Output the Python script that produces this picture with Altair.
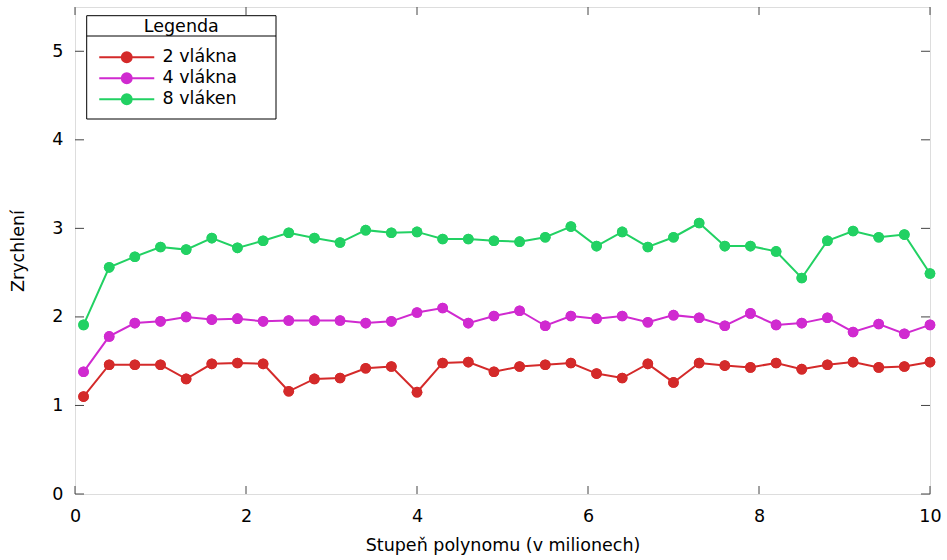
import altair as alt
import pandas as pd

# ---- data ----
x_vals = [0.1, 0.4, 0.7, 1.0, 1.3, 1.6, 1.9, 2.2, 2.5, 2.8, 3.1, 3.4, 3.7, 4.0, 4.3, 4.6, 4.9,
          5.2, 5.5, 5.8, 6.1, 6.4, 6.7, 7.0, 7.3, 7.6, 7.9, 8.2, 8.5, 8.8, 9.1, 9.4, 9.7, 10.0]
series_names = ["2 vlákna", "4 vlákna", "8 vláken"]
s2 = [1.10, 1.46, 1.46, 1.46, 1.30, 1.47, 1.48, 1.47, 1.16, 1.30, 1.31, 1.42, 1.44, 1.15, 1.48, 1.49, 1.38,
      1.44, 1.46, 1.48, 1.36, 1.31, 1.47, 1.26, 1.48, 1.45, 1.43, 1.48, 1.41, 1.46, 1.49, 1.43, 1.44, 1.49]
s4 = [1.38, 1.78, 1.93, 1.95, 2.00, 1.97, 1.98, 1.95, 1.96, 1.96, 1.96, 1.93, 1.95, 2.05, 2.10, 1.93, 2.01,
      2.07, 1.90, 2.01, 1.98, 2.01, 1.94, 2.02, 1.99, 1.90, 2.04, 1.91, 1.93, 1.99, 1.83, 1.92, 1.81, 1.91]
s8 = [1.91, 2.56, 2.68, 2.79, 2.76, 2.89, 2.78, 2.86, 2.95, 2.89, 2.84, 2.98, 2.95, 2.96, 2.88, 2.88, 2.86,
      2.85, 2.90, 3.02, 2.80, 2.96, 2.79, 2.90, 3.06, 2.80, 2.80, 2.74, 2.44, 2.86, 2.97, 2.90, 2.93, 2.49]
colors = ["#d42a2a", "#d02ad0", "#22d163"]
x_ticks = [0, 2, 4, 6, 8, 10]
y_ticks = [0, 1, 2, 3, 4, 5]
legend_title = "Legenda"

rows = []
for name, vals in zip(series_names, [s2, s4, s8]):
    for xv, yv in zip(x_vals, vals):
        rows.append({"x": xv, "y": yv, "serie": name})
df = pd.DataFrame(rows)

W, H = 855, 487
FONT = "DejaVu Sans"
FS = 17.5

xscale = alt.Scale(domain=[0, 10], nice=False, zero=False)
yscale = alt.Scale(domain=[0, 5.5], nice=False, zero=False)

legend_symbol = "M-5,0H5M0.9,0A0.9,0.9,0,1,1,-0.9,0A0.9,0.9,0,1,1,0.9,0Z"
legend = alt.Legend(
    title=None, orient="none", legendX=11.7, legendY=37.5, padding=4,
    labelFont=FONT, labelFontSize=FS, labelColor="black", labelOffset=27,
    symbolType=legend_symbol, symbolSize=121, symbolStrokeWidth=2,
    symbolOffset=27.3, rowPadding=2,
)
color = alt.Color("serie:N", scale=alt.Scale(domain=series_names, range=colors),
                  sort=series_names, legend=legend)

xaxis = alt.Axis(values=x_ticks, format="d", domain=False, ticks=False, grid=False,
                 labelFlush=False, labelOverlap=False,
                 labelPadding=13, labelFont=FONT, labelFontSize=FS, labelColor="black",
                 titleFont=FONT, titleFontSize=FS, titleFontWeight="normal",
                 titleColor="black", titlePadding=12)
yaxis = alt.Axis(values=y_ticks, format="d", domain=False, ticks=False, grid=False,
                 labelFlush=False, labelOverlap=False,
                 labelPadding=12, labelFont=FONT, labelFontSize=FS, labelColor="black",
                 titleFont=FONT, titleFontSize=FS, titleFontWeight="normal",
                 titleColor="black", titlePadding=24)

base = alt.Chart(df)
points = base.mark_circle(size=113, opacity=1).encode(
    x=alt.X("x:Q", scale=xscale, axis=xaxis, title="Stupeň polynomu (v milionech)"),
    y=alt.Y("y:Q", scale=yscale, axis=yaxis, title="Zrychlení"),
    color=color,
)
lines = base.mark_line(strokeWidth=2).encode(
    x=alt.X("x:Q", scale=xscale),
    y=alt.Y("y:Q", scale=yscale),
    color=color,
    detail="serie:N",
)

xt = pd.DataFrame({"t": x_ticks})
yt = pd.DataFrame({"t": y_ticks})
tick_col = "#444444"
bottom_ticks = alt.Chart(xt).mark_rule(color=tick_col, strokeWidth=1).encode(
    x=alt.X("t:Q", scale=xscale), y=alt.value(H), y2=alt.value(H - 8))
top_ticks = alt.Chart(xt).mark_rule(color=tick_col, strokeWidth=1).encode(
    x=alt.X("t:Q", scale=xscale), y=alt.value(0), y2=alt.value(8))
left_ticks = alt.Chart(yt).mark_rule(color=tick_col, strokeWidth=1).encode(
    y=alt.Y("t:Q", scale=yscale), x=alt.value(0), x2=alt.value(9))
right_ticks = alt.Chart(yt).mark_rule(color=tick_col, strokeWidth=1).encode(
    y=alt.Y("t:Q", scale=yscale), x=alt.value(W), x2=alt.value(W - 9))

one = pd.DataFrame({"a": [0]})
legend_box = alt.Chart(one).mark_rect(filled=False, stroke="black", strokeWidth=1).encode(
    x=alt.value(11.7), x2=alt.value(201), y=alt.value(8.7), y2=alt.value(112))
legend_sep = alt.Chart(one).mark_rule(color="black", strokeWidth=1).encode(
    x=alt.value(11.7), x2=alt.value(201), y=alt.value(29))
legend_head = alt.Chart(one).mark_text(
    font=FONT, fontSize=FS, color="black", align="center", baseline="alphabetic"
).encode(text=alt.value(legend_title), x=alt.value(106.3), y=alt.value(25))

chart = alt.layer(
    bottom_ticks, top_ticks, left_ticks, right_ticks,
    points, lines, points,
    legend_box, legend_sep, legend_head,
).properties(
    width=W, height=H,
    padding={"left": 75, "top": 7, "right": 17, "bottom": 66},
    autosize="none",
).configure_view(stroke="black", strokeWidth=1).configure(font=FONT, background="white")

chart.save("out.html", embed_options={"renderer": "svg", "actions": False})
